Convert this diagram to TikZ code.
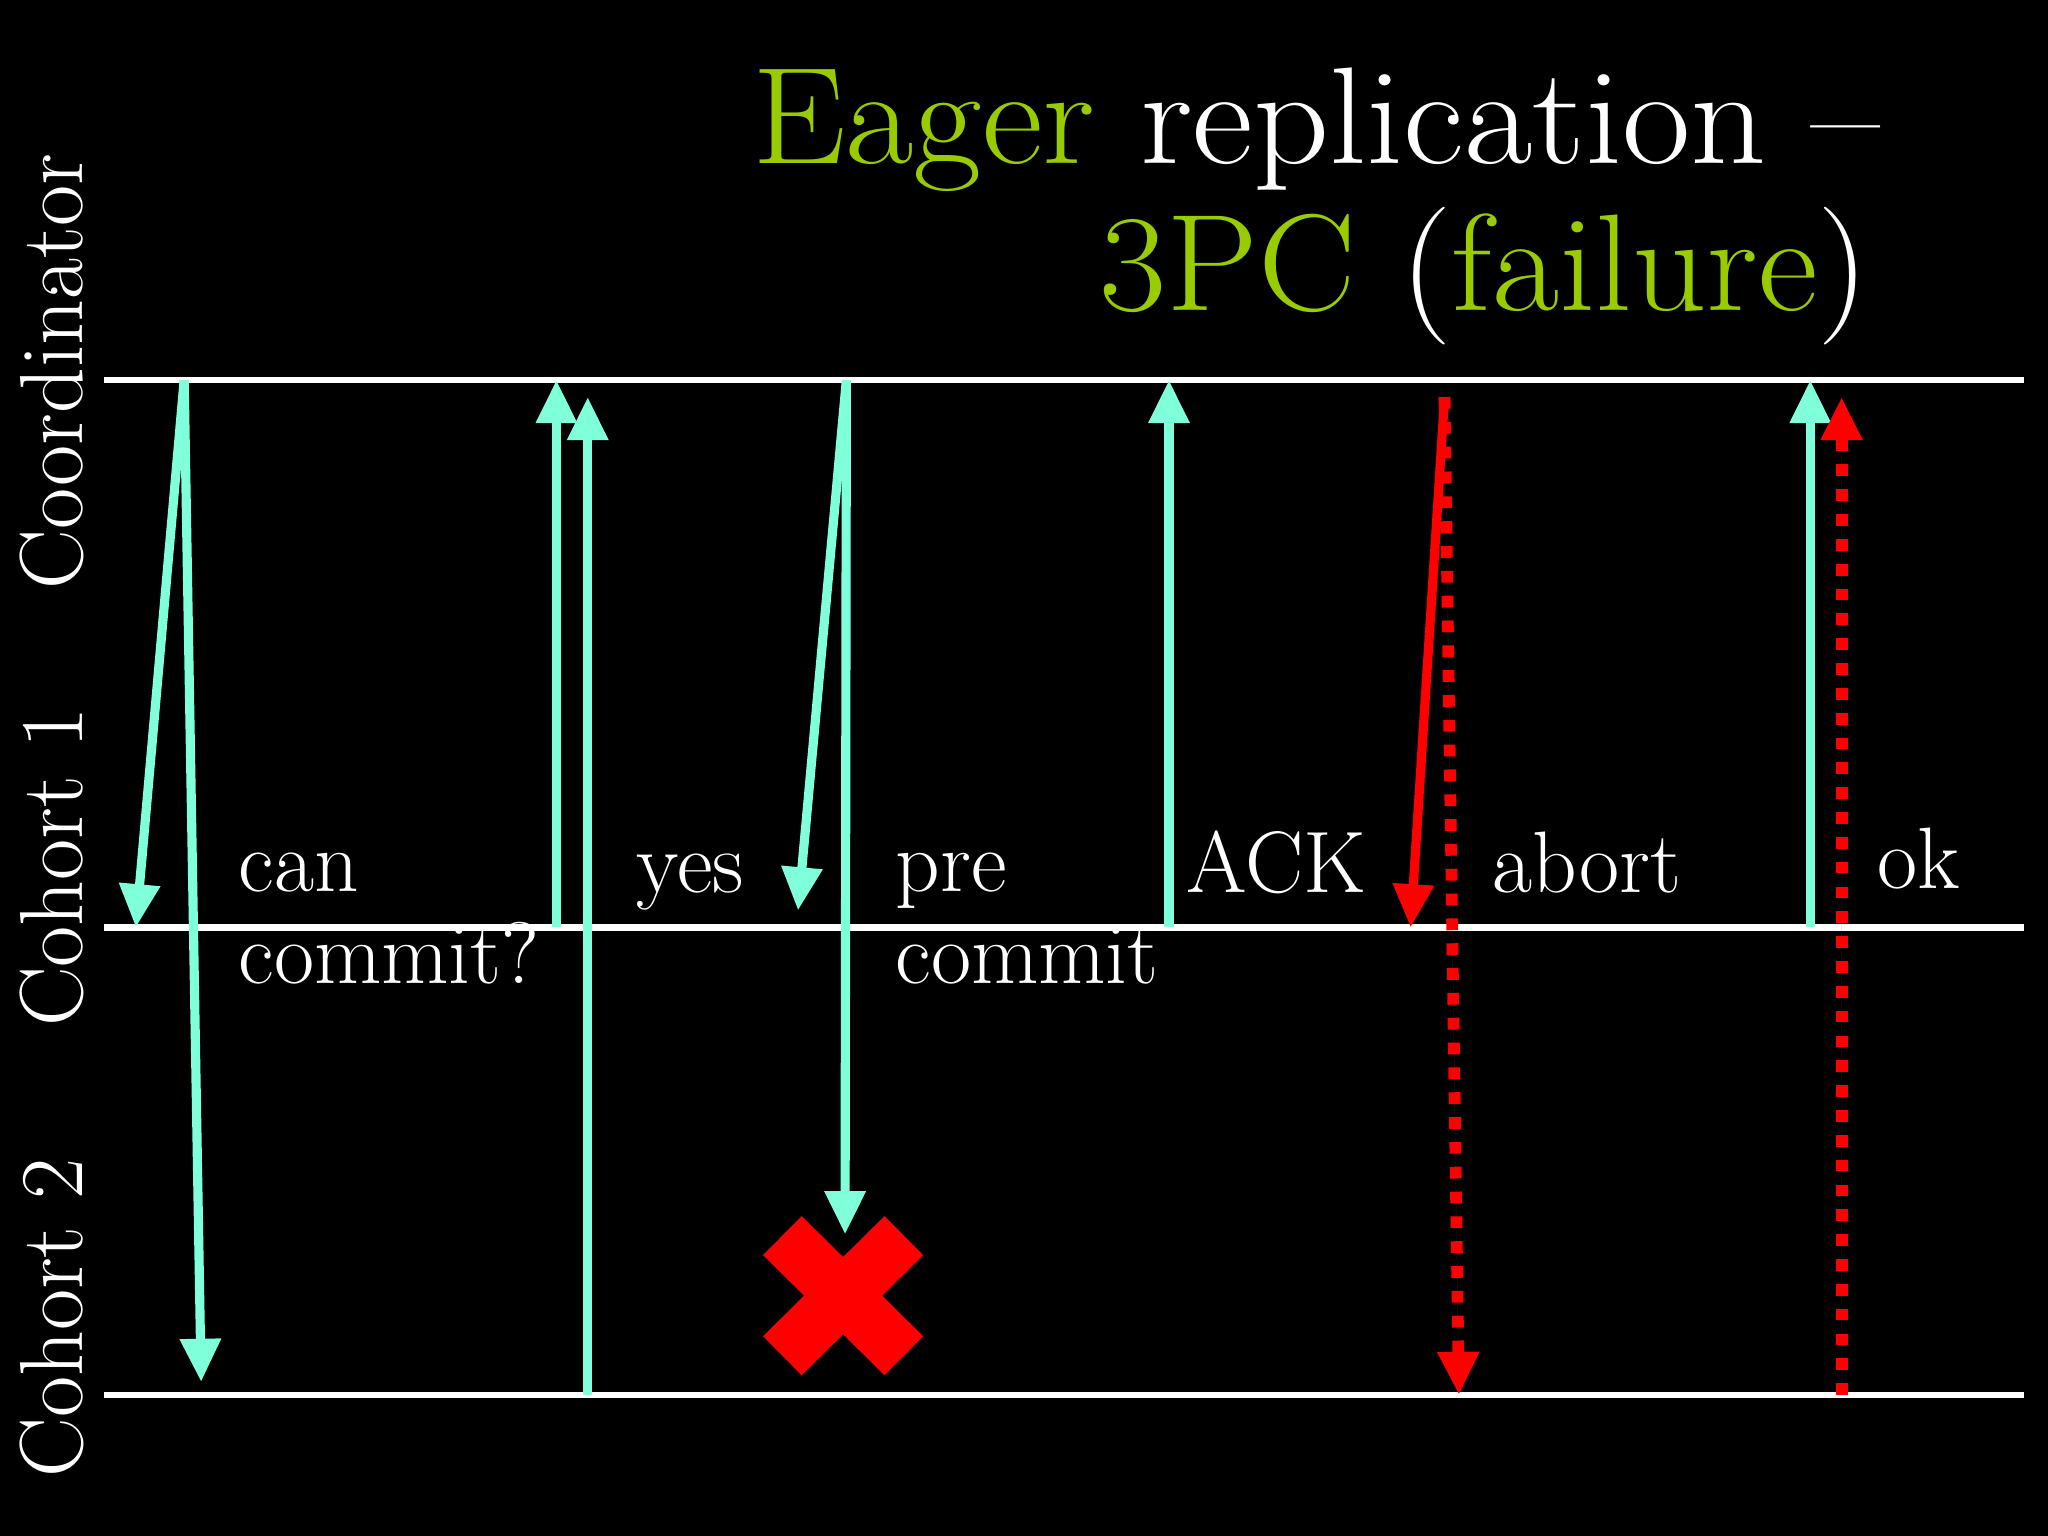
\documentclass[tikz,border=0pt]{standalone}
\usepackage{tikz}
\usepackage{graphicx}
\usetikzlibrary{arrows.meta}
\definecolor{aqua}{RGB}{127,255,218}
\definecolor{eager}{RGB}{153,204,0}
\definecolor{xred}{RGB}{255,0,0}
\tikzstyle{lifeline} = [draw=white, line width=0.05cm]
\tikzstyle{msg} = [draw=aqua, line width=0.07cm, -{Triangle[width=0.3cm,length=0.33cm]}]
\tikzstyle{abortmsg} = [draw=xred, fill=xred, line width=0.07cm, -{Triangle[width=0.3cm,length=0.33cm]}]
\tikzstyle{lostmsg} = [abortmsg, line width=0.09cm, dash pattern=on 0.09cm off 0.1cm]
\tikzstyle{msgtext} = [text=white, anchor=base west, inner sep=0pt, align=left, font=\fontsize{19}{20}\selectfont]
\tikzstyle{actor} = [text=white, rotate=90, anchor=base west, inner sep=0pt, font=\fontsize{19.5}{23}\selectfont]
\tikzstyle{title} = [text=white, anchor=base east, inner sep=0pt, font=\fontsize{30}{34}\selectfont]

\begin{document}
\begin{tikzpicture}[x=0.01cm, y=-0.01cm]
        \fill[black] (0,0) rectangle (1568,1176);
        \useasboundingbox (0,0) rectangle (1568,1176);
        % title
        \node[title] (title1) at (1440,125) {\scalebox{1.08}[1]{{\color{eager}Eager} replication --}};
        \node[title] (title2) at (1432,238) {\scalebox{1.06}[1]{{\color{eager}3PC} ({\color{eager}failure})}};
        % actors
        \node[actor] (coord) at (63,452) {Coordinator};
        \node[actor] (cohort1) at (63,787) {Cohort 1};
        \node[actor] (cohort2) at (63,1132) {Cohort 2};
        % lifelines
        \coordinate (coordL) at (80,291);
        \coordinate (coordR) at (1550,291);
        \coordinate (c1L) at (80,710);
        \coordinate (c1R) at (1550,710);
        \coordinate (c2L) at (80,1068);
        \coordinate (c2R) at (1550,1068);
        \path[lifeline] (coordL) -- (coordR);
        \path[lifeline] (c1L) -- (c1R);
        \path[lifeline] (c2L) -- (c2R);
        % message ends
        \coordinate (ask) at (141,291);
        \coordinate (ask1) at (104,710);
        \coordinate (ask2) at (154,1058);
        \coordinate (yes1) at (426,710);
        \coordinate (yes1c) at (426,291);
        \coordinate (yes2) at (450,1068);
        \coordinate (yes2c) at (450,304);
        \coordinate (pre) at (648,291);
        \coordinate (pre1) at (611,697);
        \coordinate (pre2) at (647,945);
        \coordinate (ack1) at (895,710);
        \coordinate (ack1c) at (895,291);
        \coordinate (abort) at (1106,304);
        \coordinate (abort1) at (1080,710);
        \coordinate (abort2) at (1117,1068);
        \coordinate (ok1) at (1386,710);
        \coordinate (ok1c) at (1386,291);
        \coordinate (ok2) at (1410,1068);
        \coordinate (ok2c) at (1410,304);
        % messages
        \path[msg] (ask) -- (ask1);
        \path[msg] (ask) -- (ask2);
        \path[msg] (yes1) -- (yes1c);
        \path[msg] (yes2) -- (yes2c);
        \path[msg] (pre) -- (pre1);
        \path[msg] (pre) -- (pre2);
        \path[msg] (ack1) -- (ack1c);
        \path[abortmsg] (abort) -- (abort1);
        \path[lostmsg] (abort) -- (abort2);
        \path[msg] (ok1) -- (ok1c);
        \path[lostmsg] (ok2) -- (ok2c);
        % crashed cohort
        \draw[xred, line width=0.42cm] (599,946) -- (692,1038) (692,946) -- (599,1038);
        % message labels
        \node[msgtext] (cantext) at (182,753) {can\\commit?};
        \node[msgtext] (yestext) at (487,683) {yes};
        \node[msgtext] (pretext) at (685,753) {pre\\commit};
        \node[msgtext] (acktext) at (908,683) {ACK};
        \node[msgtext] (aborttext) at (1142,683) {abort};
        \node[msgtext] (oktext) at (1437,680) {ok};
    \end{tikzpicture}
\end{document}
